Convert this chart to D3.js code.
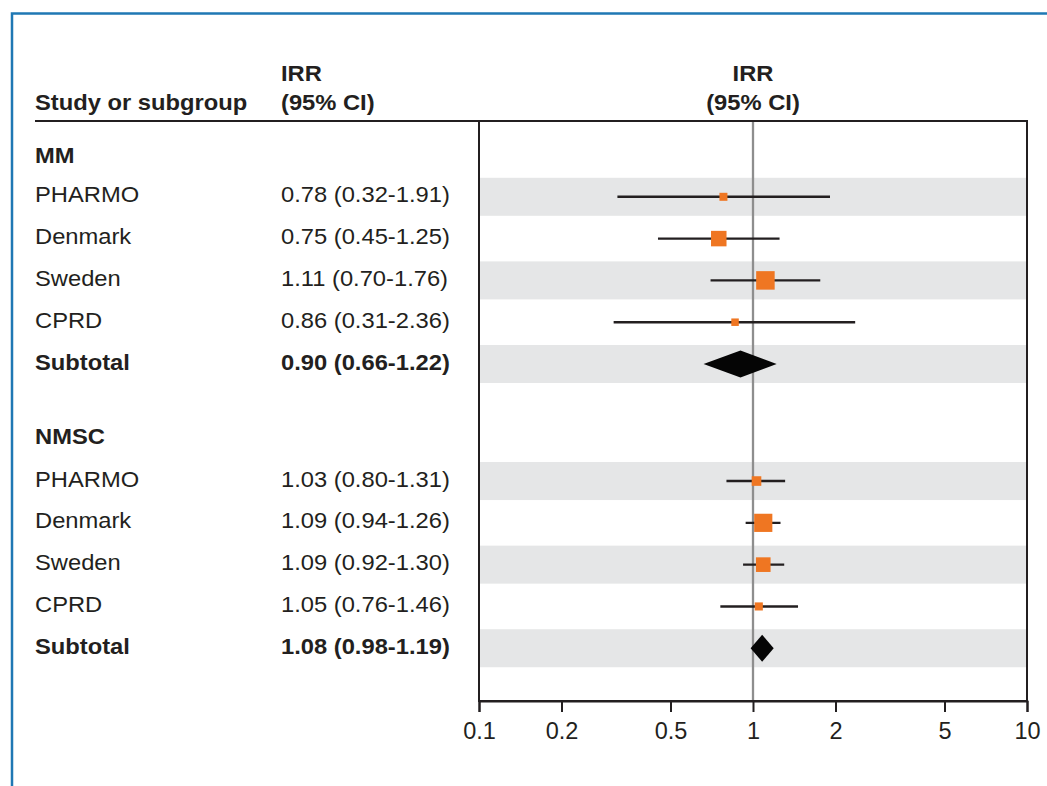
<!DOCTYPE html>
<html>
<head>
<meta charset="utf-8">
<script src="https://cdn.jsdelivr.net/npm/d3@7"></script>
<style>
  body { margin: 0; background: #fff; }
  text { font-family: "Liberation Sans", Arial, sans-serif; fill: #231f20; }
</style>
</head>
<body>
<div id="wrapper"></div>
<script>
// groups and studies
const groups = ["MM", "NMSC"]
const studies = ["PHARMO", "Denmark", "Sweden", "CPRD"]

// IRR estimates
const mmIrr   = [0.78, 0.75, 1.11, 0.86]
const mmLow   = [0.32, 0.45, 0.70, 0.31]
const mmHigh  = [1.91, 1.25, 1.76, 2.36]
const mmWeight = [9.1, 34.2, 48.7, 8.0]
const mmTotal = [0.90, 0.66, 1.22]

const nmscIrr   = [1.03, 1.09, 1.09, 1.05]
const nmscLow   = [0.80, 0.94, 0.92, 0.76]
const nmscHigh  = [1.31, 1.26, 1.30, 1.46]
const nmscWeight = [13.1, 47.1, 30.5, 9.3]
const nmscTotal = [1.08, 0.98, 1.19]

const tickValues = [0.1, 0.2, 0.5, 1, 2, 5, 10]

function draw() {
    var dimension = {
        width: 1047,
        height: 786,
        plotLeft: 479,
        plotRight: 1027,
        plotTop: 121,
        plotBottom: 701
    }
    const stretch = 1.055  // text in the source is a bit wide

    const svg = d3.select("#wrapper")
        .append("svg")
        .attr("width", dimension.width)
        .attr("height", dimension.height)

    // blue frame (top + left)
    svg.append("path")
        .attr("d", `M12,${dimension.height} L12,13.5 L${dimension.width},13.5`)
        .attr("fill", "none")
        .attr("stroke", "#1f78b4")
        .attr("stroke-width", 2.5)

    const x = d3.scaleLog()
        .domain([0.1, 10])
        .range([dimension.plotLeft, dimension.plotRight])

    const size = d3.scaleSqrt().domain([0, 100]).range([0, 26.5])

    // build rows
    var rows = []
    var slot = 0
    const groupData = [
        {irr: mmIrr, low: mmLow, high: mmHigh, w: mmWeight, total: mmTotal},
        {irr: nmscIrr, low: nmscLow, high: nmscHigh, w: nmscWeight, total: nmscTotal}
    ]
    groups.forEach((g, gi) => {
        if (gi > 0) slot += 1.73
        rows.push({type: "header", label: g, slot: slot})
        const gd = groupData[gi]
        if (gi > 0) slot += 0.07
        studies.forEach((s, i) => {
            slot += 1
            rows.push({type: "study", label: s, irr: gd.irr[i], low: gd.low[i], high: gd.high[i], w: gd.w[i], slot: slot, band: i % 2 == 0})
        })
        slot += 1
        rows.push({type: "total", label: "Subtotal", irr: gd.total[0], low: gd.total[1], high: gd.total[2], slot: slot, band: true})
    })

    const y = d3.scaleLinear()
        .domain([0, 1])
        .range([155, 196.8])

    const fmt = d3.format(".2f")

    // grey bands
    svg.append("g")
        .selectAll("rect")
        .data(rows.filter(d => d.band))
        .enter()
        .append("rect")
        .attr("x", dimension.plotLeft + 1)
        .attr("width", dimension.plotRight - dimension.plotLeft - 2)
        .attr("y", d => y(d.slot) - 19)
        .attr("height", 38)
        .attr("fill", "#e5e6e7")

    // reference line at 1
    svg.append("line")
        .attr("x1", x(1)).attr("x2", x(1))
        .attr("y1", dimension.plotTop).attr("y2", dimension.plotBottom)
        .attr("stroke", "#8e8e8e")
        .attr("stroke-width", 2.3)

    // CI lines
    svg.append("g")
        .selectAll("line")
        .data(rows.filter(d => d.type == "study"))
        .enter()
        .append("line")
        .attr("x1", d => x(d.low))
        .attr("x2", d => x(d.high))
        .attr("y1", d => y(d.slot))
        .attr("y2", d => y(d.slot))
        .attr("stroke", "#231f20")
        .attr("stroke-width", 2.4)

    // squares
    svg.append("g")
        .selectAll("rect")
        .data(rows.filter(d => d.type == "study"))
        .enter()
        .append("rect")
        .attr("x", d => x(d.irr) - size(d.w) / 2)
        .attr("y", d => y(d.slot) - size(d.w) / 2)
        .attr("width", d => size(d.w))
        .attr("height", d => size(d.w))
        .attr("fill", "#ef7622")

    // diamonds
    svg.append("g")
        .selectAll("path")
        .data(rows.filter(d => d.type == "total"))
        .enter()
        .append("path")
        .attr("d", d => {
            const cy = y(d.slot)
            return `M${x(d.low)},${cy} L${x(d.irr)},${cy - 13.5} L${x(d.high)},${cy} L${x(d.irr)},${cy + 13.5} Z`
        })
        .attr("fill", "#050505")

    // plot frame
    svg.append("rect")
        .attr("x", dimension.plotLeft)
        .attr("y", dimension.plotTop)
        .attr("width", dimension.plotRight - dimension.plotLeft)
        .attr("height", dimension.plotBottom - dimension.plotTop)
        .attr("fill", "none")
        .attr("stroke", "#231f20")
        .attr("stroke-width", 2)

    // header rule
    svg.append("line")
        .attr("x1", 35).attr("x2", dimension.plotLeft)
        .attr("y1", dimension.plotTop).attr("y2", dimension.plotTop)
        .attr("stroke", "#231f20")
        .attr("stroke-width", 2)

    // x axis
    const axis = svg.append("g")
        .attr("transform", `translate(0,${dimension.plotBottom})`)
        .call(d3.axisBottom(x).tickValues(tickValues).tickFormat(d3.format("")).tickSize(11).tickPadding(10))
    axis.select(".domain").attr("stroke", "#231f20").attr("stroke-width", 2)
    axis.selectAll(".tick line").attr("stroke", "#231f20").attr("stroke-width", 2)
    axis.selectAll(".tick text")
        .style("font-family", "'Liberation Sans', Arial, sans-serif")
        .style("font-size", "23.5px")
        .attr("fill", "#333")

    // helper: stretched text at a point
    function label(sel, px, py) {
        return sel.attr("transform", (d, i) => `translate(${px(d, i)},${py(d, i)}) scale(${stretch},1)`)
    }

    // column headers
    const hdr = svg.append("g").style("font-weight", "bold").style("font-size", "22.5px")
    const headers = [
        {t: "Study or subgroup", x: 35, y: 110, a: "start"},
        {t: "IRR", x: 281, y: 81, a: "start"},
        {t: "(95% CI)", x: 281, y: 110, a: "start"},
        {t: "IRR", x: x(1), y: 81, a: "middle"},
        {t: "(95% CI)", x: x(1), y: 110, a: "middle"}
    ]
    label(hdr.selectAll("text").data(headers).enter().append("text"), d => d.x, d => d.y)
        .attr("text-anchor", d => d.a)
        .text(d => d.t)

    // row labels
    label(svg.append("g")
        .selectAll("text")
        .data(rows)
        .enter()
        .append("text"), () => 35, d => y(d.slot) + (d.type == "header" ? 8 : 5.5))
        .style("font-size", "22.5px")
        .style("font-weight", d => d.type == "study" ? "normal" : "bold")
        .text(d => d.label)

    label(svg.append("g")
        .selectAll("text")
        .data(rows.filter(d => d.type != "header"))
        .enter()
        .append("text"), () => 281, d => y(d.slot) + 5.5)
        .style("font-size", "22.5px")
        .style("font-weight", d => d.type == "total" ? "bold" : "normal")
        .text(d => `${fmt(d.irr)} (${fmt(d.low)}-${fmt(d.high)})`)
}

draw();
</script>
</body>
</html>
